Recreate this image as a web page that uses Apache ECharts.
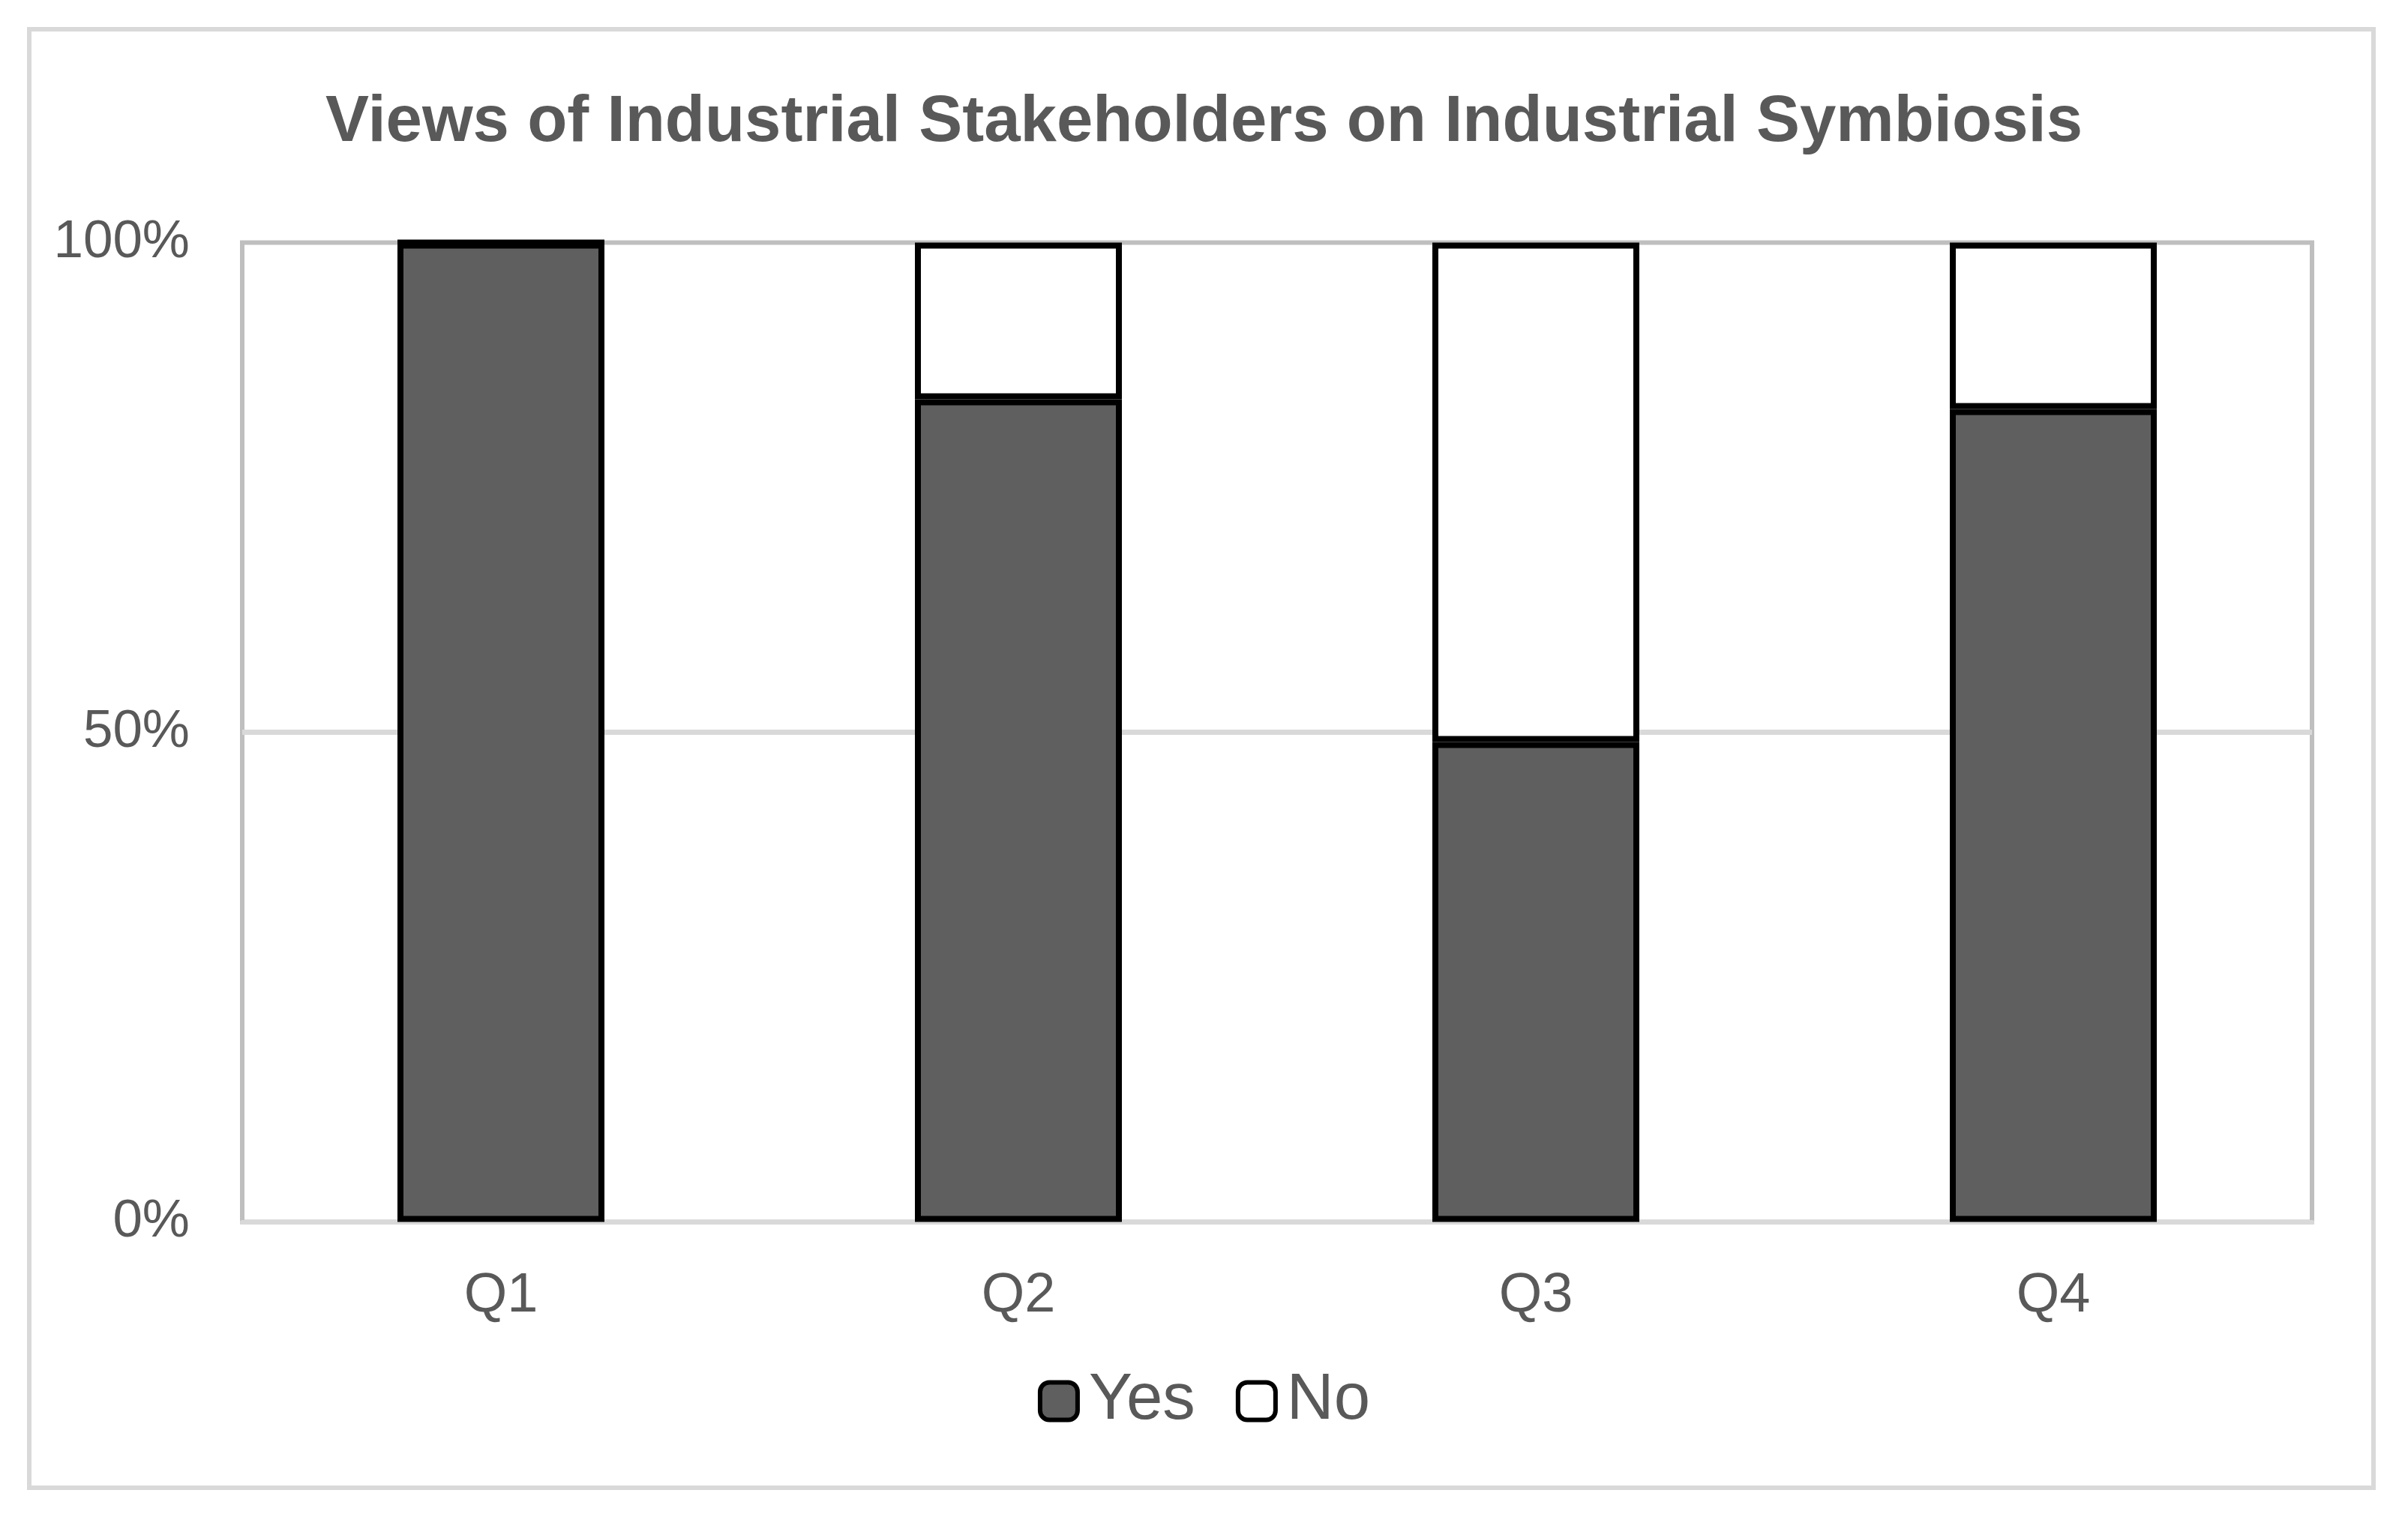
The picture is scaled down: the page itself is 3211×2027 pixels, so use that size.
<!DOCTYPE html>
<html>
<head>
<meta charset="utf-8">
<script src="https://cdn.jsdelivr.net/npm/echarts@6/dist/echarts.min.js"></script>
<style>
  html, body { margin: 0; padding: 0; background: #ffffff; }
  #wrap { position: relative; width: 3211px; height: 2027px; }
  #chart { position: absolute; left: 0; top: 0; width: 3211px; height: 2027px; }
  #frame { position: absolute; left: 36px; top: 36px; width: 3132px; height: 1951px;
           box-sizing: border-box; border: 6px solid #d9d9d9; pointer-events: none; }
</style>
</head>
<body>
<div id="wrap">
  <div id="chart"></div>
  <div id="frame"></div>
</div>
<script>
const titleText = 'Views of Industrial Stakeholders on Industrial Symbiosis';
const categories = ['Q1', 'Q2', 'Q3', 'Q4'];
const seriesNames = ['Yes', 'No'];
const yesValues = [100, 84, 49, 83];
const noValues = [0, 16, 51, 17];
const yTicks = [0, 50, 100];

const FONT = '"Liberation Sans", Arial, sans-serif';
const TEXT = '#595959';

const chart = echarts.init(document.getElementById('chart'), null, { renderer: 'canvas' });
chart.setOption({
  backgroundColor: '#ffffff',
  animation: false,
  title: {
    text: titleText,
    left: 'center',
    top: 116,
    textStyle: { fontFamily: FONT, fontSize: 87, fontWeight: 'bold', color: TEXT }
  },
  legend: {
    data: seriesNames,
    left: 'center',
    top: 1820,
    itemWidth: 50,
    itemHeight: 50,
    itemGap: 54,
    icon: 'roundRect',
    itemStyle: { borderColor: '#000000', borderWidth: 6 },
    textStyle: { fontFamily: FONT, fontSize: 87, color: TEXT, padding: [0, 0, 0, 10] }
  },
  grid: {
    left: 323, right: 128, top: 323.5, bottom: 397.5,
    show: true, borderColor: '#bfbfbf', borderWidth: 6, backgroundColor: '#ffffff'
  },
  xAxis: {
    type: 'category',
    data: categories,
    axisLine: { show: true, lineStyle: { color: '#d9d9d9', width: 6 } },
    axisTick: { show: false },
    axisLabel: { fontFamily: FONT, fontSize: 74, color: TEXT, margin: 62 },
    splitLine: { show: false }
  },
  yAxis: {
    type: 'value',
    min: yTicks[0],
    max: yTicks[yTicks.length - 1],
    interval: yTicks[1] - yTicks[0],
    axisLine: { show: false },
    axisTick: { show: false },
    axisLabel: { fontFamily: FONT, fontSize: 71, color: TEXT, margin: 70, formatter: '{value}%' },
    splitLine: { show: true, lineStyle: { color: ['transparent', '#d9d9d9', 'transparent'], width: 7 } }
  },
  series: [
    {
      name: seriesNames[0],
      type: 'bar',
      stack: 'total',
      barWidth: '40%',
      data: yesValues,
      itemStyle: { color: '#5f5f5f', borderColor: '#000000', borderWidth: 8 }
    },
    {
      name: seriesNames[1],
      type: 'bar',
      stack: 'total',
      barWidth: '40%',
      data: noValues,
      itemStyle: { color: '#ffffff', borderColor: '#000000', borderWidth: 8 }
    }
  ]
});
</script>
</body>
</html>
